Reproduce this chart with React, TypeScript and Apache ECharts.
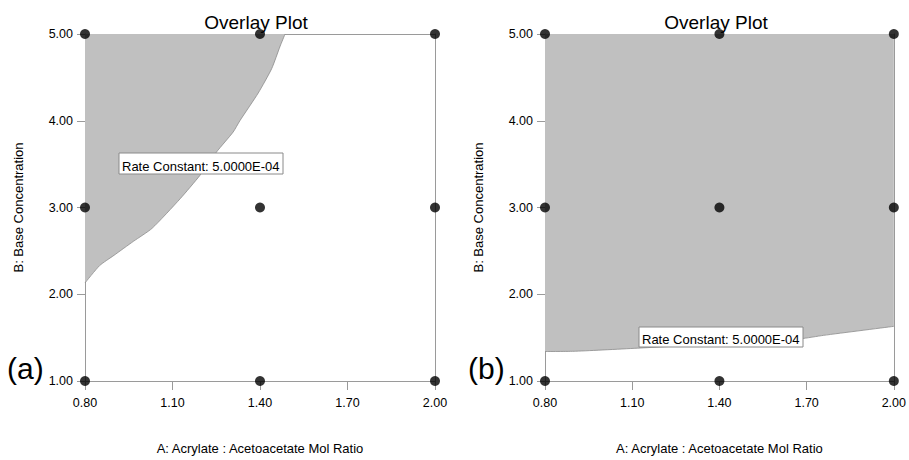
import React, { useEffect, useRef } from "react";
import * as echarts from "echarts";

const xTicks = [0.8, 1.1, 1.4, 1.7, 2.0];
const yTicks = [1, 2, 3, 4, 5];
const designPoints: [number, number][] = [
  [0.8, 1], [0.8, 3], [0.8, 5],
  [1.4, 1], [1.4, 3], [1.4, 5],
  [2.0, 1], [2.0, 3], [2.0, 5],
];
// contour Rate Constant = 5.0000E-04, panel (a)
const contourA: [number, number][] = [
  [0.8, 2.13], [0.85, 2.33], [0.9, 2.45], [0.966, 2.61], [1.03, 2.76], [1.126, 3.1],
  [1.194, 3.37], [1.251, 3.64], [1.308, 3.87], [1.331, 4.0], [1.394, 4.32], [1.44, 4.6],
  [1.469, 4.86], [1.486, 5.0],
];
// contour Rate Constant = 5.0000E-04, panel (b)
const contourB: [number, number][] = [
  [0.8, 1.34], [0.905, 1.343], [1.127, 1.38], [1.4, 1.43], [1.679, 1.487], [1.758, 1.526], [2.0, 1.63],
];
const titleText = "Overlay Plot";
const xName = "A: Acrylate : Acetoacetate Mol Ratio";
const yName = "B: Base Concentration";
const contourLabel = "Rate Constant: 5.0000E-04";
const panelLabels = ["(a)", "(b)"];

const FONT = "Liberation Sans, Arial, sans-serif";
const AX = "#9a9a9a";

export default function App() {
  const ref = useRef<HTMLDivElement>(null);
  useEffect(() => {
    if (!ref.current) return;
    const chart = echarts.init(ref.current, null, { renderer: "svg" });
    const grids = [
      { left: 85, top: 34, width: 350, height: 350 },
      { left: 545, top: 34, width: 351, height: 350 },
    ];
    const mainX = (i: number) => ({
      type: "value",
      gridIndex: i,
      min: xTicks[0],
      max: xTicks[xTicks.length - 1],
      interval: 0.3,
      name: xName,
      nameLocation: "middle",
      nameGap: 61,
      nameTextStyle: { fontFamily: FONT, fontSize: 13, color: "#000" },
      axisLine: { show: true, lineStyle: { color: AX, width: 1 } },
      axisTick: { show: true, length: 9, lineStyle: { color: AX } },
      axisLabel: {
        margin: 15,
        fontFamily: FONT,
        fontSize: 12.5,
        color: "#000",
        formatter: (v: number) => v.toFixed(2),
      },
      splitLine: { show: false },
    });
    const mainY = (i: number) => ({
      type: "value",
      gridIndex: i,
      min: yTicks[0],
      max: yTicks[yTicks.length - 1],
      interval: 1,
      name: yName,
      nameLocation: "middle",
      nameGap: 60,
      nameTextStyle: { fontFamily: FONT, fontSize: 13, color: "#000" },
      axisLine: { show: true, lineStyle: { color: AX, width: 1 } },
      axisTick: { show: true, length: 8, lineStyle: { color: AX } },
      axisLabel: {
        margin: 12,
        fontFamily: FONT,
        fontSize: 12.5,
        color: "#000",
        formatter: (v: number) => v.toFixed(2),
      },
      splitLine: { show: false },
    });
    const frameX = (i: number) => ({
      type: "value", gridIndex: i, position: "top", min: 0.8, max: 2.0,
      axisLine: { show: true, onZero: false, lineStyle: { color: AX } },
      axisTick: { show: false }, axisLabel: { show: false }, splitLine: { show: false },
    });
    const frameY = (i: number) => ({
      type: "value", gridIndex: i, position: "right", min: 1, max: 5,
      axisLine: { show: true, onZero: false, lineStyle: { color: AX } },
      axisTick: { show: false }, axisLabel: { show: false }, splitLine: { show: false },
    });
    const areaSeries = (i: number, data: [number, number][]) => ({
      type: "line",
      xAxisIndex: i,
      yAxisIndex: i,
      data,
      symbol: "none",
      smooth: 0.2,
      lineStyle: { color: "#8a8a8a", width: 0.8 },
      areaStyle: { color: "#c0c0c0", opacity: 1, origin: "end" },
      z: 1,
    });
    const scatter = (i: number) => ({
      type: "scatter",
      xAxisIndex: i,
      yAxisIndex: i,
      data: designPoints,
      symbolSize: 10,
      itemStyle: { color: "#000" },
      clip: false,
      z: 5,
    });
    const labelBox = (x: number, y: number, h: number) => [
      {
        type: "rect",
        z: 100,
        shape: { x, y, width: 164, height: h },
        style: { fill: "#fff", stroke: "#8a8a8a", lineWidth: 1 },
      },
      {
        type: "text",
        z: 101,
        x: x + 3,
        y: y + h - 8,
        style: { text: contourLabel, font: `13px ${FONT}`, fill: "#000", verticalAlign: "middle" },
      },
    ];
    const titleStyle = { fontFamily: FONT, fontSize: 19, fontWeight: "normal", color: "#000" };
    chart.setOption({
      animation: false,
      backgroundColor: "#fff",
      title: [
        { text: titleText, left: 256, top: 13, padding: 0, textAlign: "center", textStyle: titleStyle },
        { text: titleText, left: 716, top: 13, padding: 0, textAlign: "center", textStyle: titleStyle },
      ],
      grid: grids,
      xAxis: [mainX(0), mainX(1), frameX(0), frameX(1)],
      yAxis: [mainY(0), mainY(1), frameY(0), frameY(1)],
      series: [areaSeries(0, contourA), areaSeries(1, contourB), scatter(0), scatter(1)],
      graphic: {
        elements: [
          ...labelBox(119, 153, 21),
          ...labelBox(639, 327, 20),
          { type: "text", left: 7, top: 353, z: 100, style: { text: panelLabels[0], font: `30px ${FONT}`, fill: "#000" } },
          { type: "text", left: 468, top: 353, z: 100, style: { text: panelLabels[1], font: `30px ${FONT}`, fill: "#000" } },
        ],
      },
    });
    return () => chart.dispose();
  }, []);
  return <div ref={ref} style={{ position: "absolute", left: 0, top: 0, width: 909, height: 460 }} />;
}
